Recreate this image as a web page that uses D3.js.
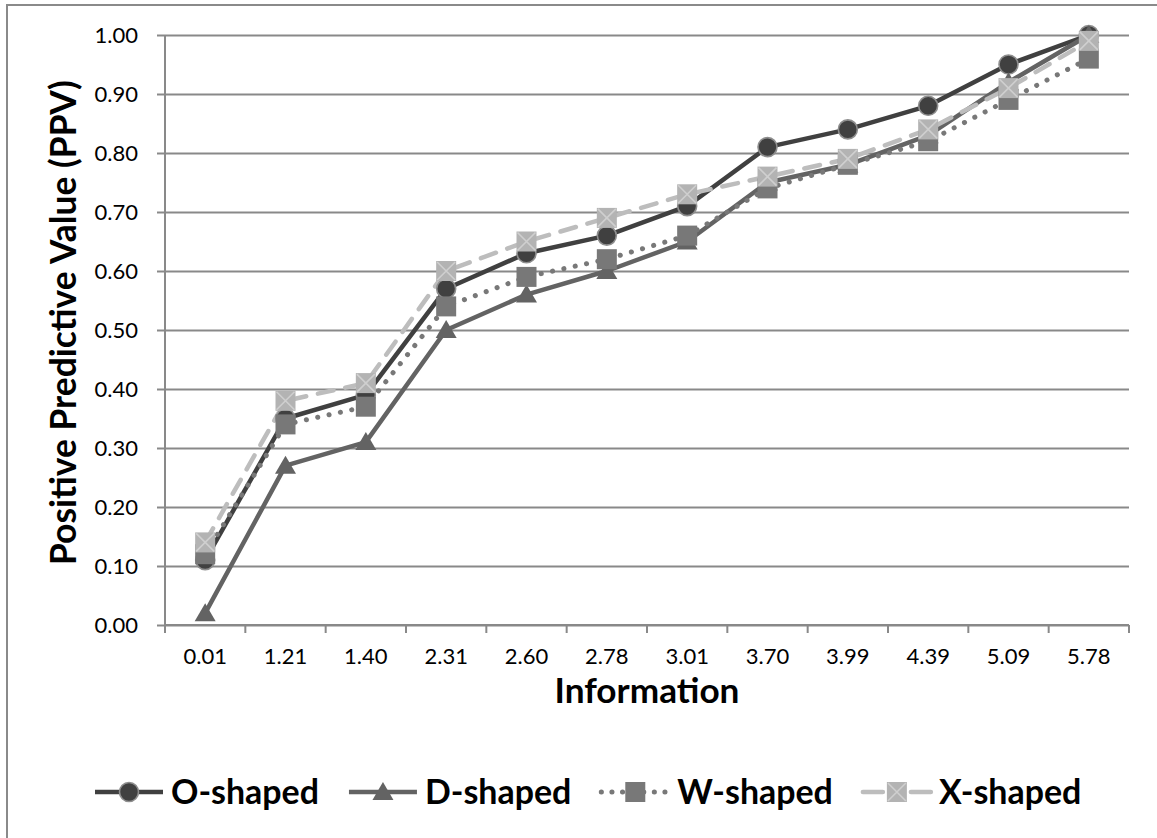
<!DOCTYPE html>
<html>
<head>
<meta charset="utf-8">
<script src="https://cdn.jsdelivr.net/npm/d3@7"></script>
<style>
  html, body { margin: 0; padding: 0; background: #fff; }
  svg { display: block; }
  text { font-family: Lato, "Open Sans", sans-serif; fill: #000; }
</style>
</head>
<body>
<svg id="chart" width="1157" height="838"></svg>
<script>
// Information levels on the x axis
const categories = ["0.01", "1.21", "1.40", "2.31", "2.60", "2.78", "3.01", "3.70", "3.99", "4.39", "5.09", "5.78"];

// Positive predictive value per shape
const oShaped = [0.11, 0.35, 0.39, 0.57, 0.63, 0.66, 0.71, 0.81, 0.84, 0.88, 0.95, 1.00];
const dShaped = [0.02, 0.27, 0.31, 0.50, 0.56, 0.60, 0.65, 0.75, 0.78, 0.83, 0.92, 1.00];
const wShaped = [0.12, 0.34, 0.37, 0.54, 0.59, 0.62, 0.66, 0.74, 0.78, 0.82, 0.89, 0.96];
const xShaped = [0.14, 0.38, 0.41, 0.60, 0.65, 0.69, 0.73, 0.76, 0.79, 0.84, 0.91, 0.99];

const seriesNames = ["O-shaped", "D-shaped", "W-shaped", "X-shaped"];
const yTicks = [0, 0.1, 0.2, 0.3, 0.4, 0.5, 0.6, 0.7, 0.8, 0.9, 1.0];

const series = [
  { name: seriesNames[0], values: oShaped, color: "#404040", dash: null, cap: "butt", marker: "circle" },
  { name: seriesNames[1], values: dShaped, color: "#636363", dash: null, cap: "butt", marker: "triangle" },
  { name: seriesNames[2], values: wShaped, color: "#787878", dash: "0.1 11.5", cap: "round", marker: "square" },
  { name: seriesNames[3], values: xShaped, color: "#bdbdbd", dash: "16 12", cap: "round", marker: "xsquare" }
];

const svg = d3.select("#chart");
const plot = { left: 165, right: 1129, top: 35, bottom: 625 };
const gridColor = "#898989";
const tickFont = 22;

// scale a text's font size so that it spans the given width
function fitWidth(sel, width) {
  const base = parseFloat(sel.style("font-size"));
  const w = sel.node().getComputedTextLength();
  sel.style("font-size", (base * width / w).toFixed(2) + "px");
  return sel;
}

// chart area frame
svg.append("rect")
  .attr("x", 7).attr("y", 5).attr("width", 1300).attr("height", 1000)
  .attr("fill", "#fff").attr("stroke", "#8a8a8a").attr("stroke-width", 2);

const x = d3.scaleBand().domain(categories).range([plot.left, plot.right]).padding(0);
const y = d3.scaleLinear().domain([0, 1]).range([plot.bottom, plot.top]);

// horizontal gridlines + y axis labels
const yAxis = d3.axisLeft(y)
  .tickValues(yTicks)
  .tickFormat(d3.format(".2f"))
  .tickSize(8)
  .tickPadding(19);
const gy = svg.append("g").attr("transform", `translate(${plot.left},0)`).call(yAxis);
gy.select(".domain").remove();
gy.selectAll(".tick line")
  .attr("x1", plot.right - plot.left)
  .attr("x2", -8)
  .attr("stroke", gridColor).attr("stroke-width", 2);
gy.selectAll(".tick text")
  .style("font-size", tickFont + "px").style("font-family", "Lato, sans-serif").attr("fill", "#000");

// vertical axis line
svg.append("line")
  .attr("x1", plot.left).attr("x2", plot.left)
  .attr("y1", y(1)).attr("y2", y(0))
  .attr("stroke", gridColor).attr("stroke-width", 2);

// x axis labels (centred on categories)
const xAxis = d3.axisBottom(x).tickSize(0).tickPadding(23);
const gx = svg.append("g").attr("transform", `translate(0,${plot.bottom})`).call(xAxis);
gx.select(".domain").remove();
gx.selectAll(".tick text")
  .style("font-size", tickFont + "px").style("font-family", "Lato, sans-serif").attr("fill", "#000");

// x axis baseline and boundary tick marks
svg.append("line")
  .attr("x1", plot.left).attr("x2", plot.right)
  .attr("y1", plot.bottom).attr("y2", plot.bottom)
  .attr("stroke", gridColor).attr("stroke-width", 2);
const boundaries = categories.map(c => x(c)).concat([x(categories[categories.length - 1]) + x.bandwidth()]);
svg.append("g").selectAll("line").data(boundaries).join("line")
  .attr("x1", d => d).attr("x2", d => d)
  .attr("y1", plot.bottom).attr("y2", plot.bottom + 8)
  .attr("stroke", gridColor).attr("stroke-width", 2);

// axis titles
const xTitle = svg.append("text")
  .attr("x", (plot.left + plot.right) / 2).attr("y", 703)
  .attr("text-anchor", "middle")
  .style("font-size", "32px").style("font-weight", "bold")
  .text("Information");
fitWidth(xTitle, 185);

const yTitle = svg.append("text")
  .attr("transform", "translate(76,565) rotate(-90)")
  .attr("text-anchor", "start")
  .style("font-size", "31px").style("font-weight", "bold")
  .text("Positive Predictive Value (PPV)");
fitWidth(yTitle, 485);

// marker drawing
function drawMarker(g, type, color) {
  if (type === "circle") {
    g.append("circle").attr("r", 9.5).attr("fill", color).attr("stroke", "#8e8e8e").attr("stroke-width", 1.6);
  } else if (type === "triangle") {
    g.append("path").attr("d", "M0,-10 L10.5,8 L-10.5,8 Z").attr("fill", color);
  } else if (type === "square") {
    g.append("rect").attr("x", -10).attr("y", -10).attr("width", 20).attr("height", 20).attr("fill", color);
  } else if (type === "xsquare") {
    g.append("rect").attr("x", -10).attr("y", -10).attr("width", 20).attr("height", 20).attr("fill", "#b3b3b3");
    g.append("path").attr("d", "M-9,-9 L9,9 M9,-9 L-9,9")
      .attr("stroke", "#cfcfcf").attr("stroke-width", 1.6).attr("fill", "none");
  }
}

const cx = (d, i) => x(categories[i]) + x.bandwidth() / 2;
const line = d3.line().x((d, i) => cx(d, i)).y(d => y(d));

// series lines
series.forEach(s => {
  svg.append("path")
    .datum(s.values)
    .attr("d", line)
    .attr("fill", "none")
    .attr("stroke", s.color)
    .attr("stroke-width", s.marker === "square" ? 5 : 4.5)
    .attr("stroke-linejoin", "round")
    .attr("stroke-linecap", s.cap)
    .attr("stroke-dasharray", s.dash);
});

// series markers
series.forEach(s => {
  svg.append("g").selectAll("g").data(s.values).join("g")
    .attr("transform", (d, i) => `translate(${cx(d, i)},${y(d)})`)
    .each(function () { drawMarker(d3.select(this), s.marker, s.color); });
});

// legend
const legendY = 792;
let lx = 93;
const symW = 72;
// legend label size chosen so that "O-shaped" spans 148px
const probe = svg.append("text").style("font-size", "34px").style("font-weight", "bold").text(seriesNames[0]);
fitWidth(probe, 148);
const legendFont = probe.style("font-size");
probe.remove();

series.forEach(s => {
  const g = svg.append("g");
  g.append("line")
    .attr("x1", lx + 2).attr("x2", lx + symW - 2)
    .attr("y1", legendY).attr("y2", legendY)
    .attr("stroke", s.color)
    .attr("stroke-width", s.marker === "square" ? 5 : 4.5)
    .attr("stroke-linecap", s.cap)
    .attr("stroke-dasharray", s.marker === "square" ? "0.1 10.5" : (s.marker === "xsquare" ? "20 28" : null));
  const mg = g.append("g").attr("transform", `translate(${lx + symW / 2},${legendY})`);
  drawMarker(mg, s.marker, s.color);
  const t = g.append("text")
    .attr("x", lx + symW + 6).attr("y", legendY + 12)
    .style("font-size", legendFont).style("font-weight", "bold")
    .text(s.name);
  lx += symW + 6 + t.node().getComputedTextLength() + 28;
});
</script>
</body>
</html>
